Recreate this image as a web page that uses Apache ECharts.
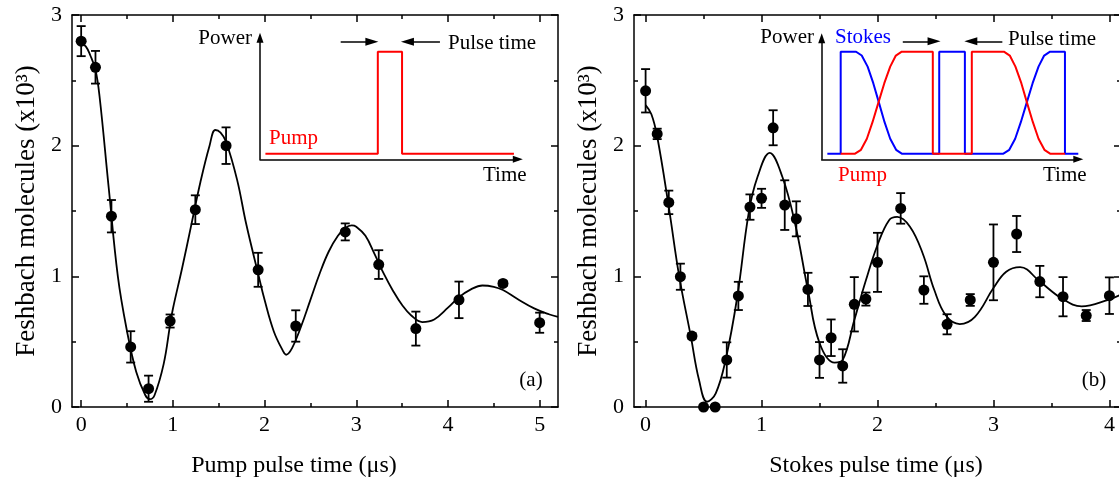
<!DOCTYPE html>
<html>
<head>
<meta charset="utf-8">
<script src="https://cdn.jsdelivr.net/npm/echarts@6/dist/echarts.min.js"></script>
<style>
html,body{margin:0;padding:0;background:#fff;}
#c{width:1119px;height:486px;}
</style>
</head>
<body>
<div id="c"></div>
<script>
// ---------- Panel (a): pump pulse ----------
const pumpT   = [0, 0.156, 0.33, 0.54, 0.735, 0.97, 1.245, 1.58, 1.93, 2.34, 2.88, 3.245, 3.65, 4.12, 4.60, 5.0];
const pumpN   = [2.80, 2.60, 1.46, 0.46, 0.14, 0.658, 1.51, 2.00, 1.05, 0.62, 1.34, 1.09, 0.60, 0.82, 0.946, 0.645];
const pumpErr = [0.115, 0.125, 0.124, 0.12, 0.10, 0.05, 0.11, 0.14, 0.13, 0.12, 0.065, 0.11, 0.13, 0.14, 0.02, 0.077];

const pumpFitT = [0, 0.05, 0.1, 0.156, 0.2, 0.3, 0.4, 0.5, 0.6, 0.7, 0.75, 0.8, 0.9, 0.97, 1.0, 1.1, 1.2, 1.3, 1.4, 1.463, 1.52, 1.58, 1.7, 1.8, 1.93, 2.0, 2.1, 2.2, 2.235, 2.3, 2.4, 2.5, 2.6, 2.7, 2.8, 2.88, 2.95, 3.0, 3.1, 3.2, 3.3, 3.4, 3.5, 3.6, 3.72, 3.85, 4.0, 4.12, 4.25, 4.375, 4.5, 4.6, 4.75, 4.94, 5.1, 5.2];
const pumpFitN = [2.78, 2.76, 2.69, 2.58, 2.38, 1.68, 1.00, 0.58, 0.27, 0.09, 0.06, 0.09, 0.33, 0.63, 0.75, 1.06, 1.39, 1.72, 2.00, 2.12, 2.10, 2.03, 1.74, 1.40, 1.02, 0.82, 0.58, 0.43, 0.40, 0.45, 0.62, 0.82, 1.02, 1.19, 1.31, 1.37, 1.39, 1.38, 1.31, 1.17, 1.02, 0.89, 0.78, 0.70, 0.65, 0.67, 0.76, 0.84, 0.90, 0.93, 0.92, 0.895, 0.83, 0.755, 0.71, 0.69];

// ---------- Panel (b): Stokes pulse ----------
const stokesT   = [0, 0.1, 0.2, 0.3, 0.4, 0.5, 0.6, 0.7, 0.8, 0.9, 1.0, 1.1, 1.2, 1.3, 1.4, 1.5, 1.6, 1.7, 1.8, 1.9, 2.0, 2.2, 2.4, 2.6, 2.8, 3.0, 3.2, 3.4, 3.6, 3.8, 4.0];
const stokesN   = [2.42, 2.09, 1.566, 0.997, 0.543, 0, 0, 0.36, 0.85, 1.53, 1.597, 2.137, 1.545, 1.44, 0.90, 0.36, 0.53, 0.314, 0.786, 0.826, 1.107, 1.52, 0.895, 0.633, 0.819, 1.107, 1.324, 0.96, 0.844, 0.70, 0.852];
const stokesErr = [0.166, 0.04, 0.09, 0.10, 0.02, 0, 0, 0.135, 0.108, 0.097, 0.073, 0.134, 0.19, 0.134, 0.127, 0.137, 0.14, 0.128, 0.208, 0.05, 0.226, 0.117, 0.105, 0.077, 0.045, 0.29, 0.138, 0.12, 0.15, 0.042, 0.14];

const stokesFitT = [0, 0.05, 0.1, 0.2, 0.29, 0.39, 0.46, 0.53, 0.605, 0.69, 0.79, 0.89, 0.965, 1.07, 1.18, 1.29, 1.40, 1.50, 1.63, 1.70, 1.80, 1.90, 2.0, 2.10, 2.17, 2.28, 2.39, 2.49, 2.59, 2.71, 2.84, 3.0, 3.11, 3.23, 3.40, 3.59, 3.76, 3.99, 4.1];
const stokesFitN = [2.31, 2.24, 2.07, 1.53, 1.00, 0.54, 0.21, 0.04, 0.105, 0.36, 0.84, 1.49, 1.76, 1.945, 1.76, 1.40, 0.895, 0.49, 0.34, 0.36, 0.665, 0.97, 1.24, 1.43, 1.455, 1.38, 1.175, 0.895, 0.70, 0.635, 0.69, 0.91, 1.035, 1.07, 0.96, 0.83, 0.77, 0.82, 0.86];

// ---------- Tick values ----------
const pumpXMajor   = [0, 1, 2, 3, 4, 5];
const pumpXMinor   = [0.5, 1.5, 2.5, 3.5, 4.5];
const stokesXMajor = [0, 1, 2, 3, 4];
const stokesXMinor = [0.5, 1.5, 2.5, 3.5];
const yMajor = [0, 1, 2, 3];
const yMinor = [0.5, 1.5, 2.5];

// ---------- Inset schematics (arbitrary time / power units) ----------
const insetAPumpT = [0.21, 4.57, 4.57, 5.51, 5.51, 9.85];
const insetAPumpP = [0.055, 0.055, 1.062, 1.062, 0.055, 0.055];
const insetAArrowY = 1.16;
const insetAArrows = [[3.13, 4.34], [6.98, 5.72]];

const insetBStokesT = [0.22, 0.74, 0.74, 1.34, 1.56, 1.79, 2.01, 2.23, 2.45, 2.67, 2.90, 3.12, 4.58, 4.58, 5.58, 5.58, 7.08, 7.31, 7.54, 7.76, 7.99, 8.22, 8.45, 8.67, 8.90, 9.48, 9.48, 10.0];
const insetBStokesP = [0.056, 0.056, 1.067, 1.067, 1.029, 0.919, 0.755, 0.562, 0.368, 0.204, 0.094, 0.056, 0.056, 1.067, 1.067, 0.056, 0.056, 0.094, 0.204, 0.368, 0.562, 0.755, 0.919, 1.029, 1.067, 1.067, 0.056, 0.056];
const insetBPumpT = [0.74, 1.30, 1.53, 1.76, 1.98, 2.21, 2.44, 2.67, 2.89, 3.12, 4.33, 4.33, 5.85, 5.85, 7.10, 7.33, 7.55, 7.78, 8.00, 8.23, 8.45, 8.68, 8.90, 9.48];
const insetBPumpP = [0.056, 0.056, 0.094, 0.204, 0.368, 0.562, 0.755, 0.919, 1.029, 1.067, 1.067, 0.056, 0.056, 1.067, 1.067, 1.029, 0.919, 0.755, 0.562, 0.368, 0.204, 0.094, 0.056, 0.056];
const insetBArrowY = 1.17;
const insetBArrows = [[3.16, 4.38], [7.04, 5.81]];

// ---------- Build chart ----------
const FONT = 'Liberation Serif';
const AX = {color: '#000', width: 1.5};
const zip2 = (a, b) => a.map((v, i) => [v, b[i]]);
const zip3 = (a, b, c) => a.map((v, i) => [v, b[i], c[i]]);

function mkAxis(kind, grid, pos, min, max, ticks, len, line, labels) {
  return {
    gridIndex: grid, type: 'value', min: min, max: max, position: pos,
    axisLine: {show: line, onZero: false, lineStyle: AX},
    axisTick: {show: true, inside: true, length: len, customValues: ticks, lineStyle: AX},
    axisLabel: labels ? {show: true, customValues: ticks, color: '#000', fontFamily: FONT, fontSize: 22, margin: kind === 'x' ? 7 : 10} : {show: false},
    splitLine: {show: false}, minorTick: {show: false}, minorSplitLine: {show: false}
  };
}
function panelX(grid, min, max, major, minor) {
  return [
    mkAxis('x', grid, 'bottom', min, max, major, 7, true, true),
    mkAxis('x', grid, 'bottom', min, max, minor, 4, false, false),
    mkAxis('x', grid, 'top', min, max, major, 7, true, false),
    mkAxis('x', grid, 'top', min, max, minor, 4, false, false)
  ];
}
function panelY(grid) {
  return [
    mkAxis('y', grid, 'left', 0, 3, yMajor, 7, true, true),
    mkAxis('y', grid, 'left', 0, 3, yMinor, 4, false, false),
    mkAxis('y', grid, 'right', 0, 3, yMajor, 7, true, false),
    mkAxis('y', grid, 'right', 0, 3, yMinor, 4, false, false)
  ];
}
function insetAxis(grid, max) {
  return {
    gridIndex: grid, type: 'value', min: 0, max: max,
    axisLine: {show: true, onZero: false, symbol: ['none', 'triangle'], symbolSize: [7, 10], lineStyle: AX},
    axisTick: {show: false}, axisLabel: {show: false}, splitLine: {show: false}
  };
}

function errItem(params, api) {
  const x = api.value(0), y = api.value(1), e = api.value(2);
  if (!(e > 0)) return {type: 'group', children: []};
  const p1 = api.coord([x, y + e]), p2 = api.coord([x, y - e]);
  const w = 4.5;
  const st = {stroke: '#000', lineWidth: 1.8};
  return {type: 'group', children: [
    {type: 'line', shape: {x1: p1[0], y1: p1[1], x2: p2[0], y2: p2[1]}, style: st},
    {type: 'line', shape: {x1: p1[0] - w, y1: p1[1], x2: p1[0] + w, y2: p1[1]}, style: st},
    {type: 'line', shape: {x1: p2[0] - w, y1: p2[1], x2: p2[0] + w, y2: p2[1]}, style: st}
  ]};
}

function arrowData(list, y) {
  return list.map(p => [{coord: [p[0], y]}, {coord: [p[1], y]}]);
}
function arrowMark(list, y) {
  return {
    silent: true, animation: false,
    symbol: ['none', 'triangle'], symbolSize: [8, 13],
    label: {show: false},
    lineStyle: {color: '#000', width: 1.5, type: 'solid'},
    itemStyle: {color: '#000'},
    emphasis: {disabled: true},
    data: arrowData(list, y)
  };
}

function txt(x, y, text, opt) {
  const style = Object.assign({
    text: text, fontFamily: FONT, fontSize: 21, fill: '#000',
    align: 'left', textAlign: 'left', verticalAlign: 'middle', textVerticalAlign: 'middle'
  }, opt || {});
  if (style.align) style.textAlign = style.align;
  return {type: 'text', x: x, y: y, z: 100, style: style};
}

const xAxes = [].concat(
  panelX(0, -0.1, 5.2, pumpXMajor, pumpXMinor),
  panelX(1, -0.1, 4.1, stokesXMajor, stokesXMinor),
  [insetAxis(2, 10), insetAxis(3, 10)]
);
const yAxes = [].concat(panelY(0), panelY(1), [insetAxis(2, 1.2), insetAxis(3, 1.2)]);

const option = {
  animation: false,
  backgroundColor: '#fff',
  grid: [
    {left: 72, top: 15, width: 486, height: 392, containLabel: false, outerBoundsMode: 'none'},
    {left: 634, top: 15, width: 487, height: 392, containLabel: false, outerBoundsMode: 'none'},
    {left: 260, top: 37.7, width: 257.8, height: 121.6, containLabel: false, outerBoundsMode: 'none'},
    {left: 821.7, top: 38.3, width: 256.6, height: 121, containLabel: false, outerBoundsMode: 'none'}
  ],
  xAxis: xAxes,
  yAxis: yAxes,
  series: [
    // panel (a)
    {type: 'line', xAxisIndex: 0, yAxisIndex: 0, data: zip2(pumpFitT, pumpFitN), smooth: 0.4, showSymbol: false, silent: true,
     lineStyle: {color: '#000', width: 1.8}, z: 3},
    {type: 'custom', xAxisIndex: 0, yAxisIndex: 0, data: zip3(pumpT, pumpN, pumpErr), renderItem: errItem, clip: false,
     encode: {x: 0, y: 1}, silent: true, z: 4},
    {type: 'scatter', xAxisIndex: 0, yAxisIndex: 0, data: zip2(pumpT, pumpN), symbol: 'circle', symbolSize: 11, clip: false,
     itemStyle: {color: '#000', opacity: 1}, silent: true, z: 5},
    // panel (b)
    {type: 'line', xAxisIndex: 4, yAxisIndex: 4, data: zip2(stokesFitT, stokesFitN), smooth: 0.4, showSymbol: false, silent: true,
     lineStyle: {color: '#000', width: 1.8}, z: 3},
    {type: 'custom', xAxisIndex: 4, yAxisIndex: 4, data: zip3(stokesT, stokesN, stokesErr), renderItem: errItem, clip: false,
     encode: {x: 0, y: 1}, silent: true, z: 4},
    {type: 'scatter', xAxisIndex: 4, yAxisIndex: 4, data: zip2(stokesT, stokesN), symbol: 'circle', symbolSize: 11, clip: false,
     itemStyle: {color: '#000', opacity: 1}, silent: true, z: 5},
    // inset (a)
    {type: 'line', xAxisIndex: 8, yAxisIndex: 8, data: zip2(insetAPumpT, insetAPumpP), showSymbol: false, silent: true,
     lineStyle: {color: '#ff0000', width: 2}, itemStyle: {color: '#ff0000'}, z: 6,
     markLine: arrowMark(insetAArrows, insetAArrowY)},
    // inset (b)
    {type: 'line', xAxisIndex: 9, yAxisIndex: 9, data: zip2(insetBStokesT, insetBStokesP), showSymbol: false, silent: true,
     lineStyle: {color: '#0000ff', width: 2}, itemStyle: {color: '#0000ff'}, z: 6,
     markLine: arrowMark(insetBArrows, insetBArrowY)},
    {type: 'line', xAxisIndex: 9, yAxisIndex: 9, data: zip2(insetBPumpT, insetBPumpP), showSymbol: false, silent: true,
     lineStyle: {color: '#ff0000', width: 2}, itemStyle: {color: '#ff0000'}, z: 7}
  ],
  graphic: {elements: [
    // axis titles
    txt(294, 466, 'Pump pulse time (μs)', {fontSize: 24, align: 'center'}),
    txt(876, 466, 'Stokes pulse time (μs)', {fontSize: 24, align: 'center'}),
    Object.assign(txt(27, 211, 'Feshbach molecules (x10³)', {fontSize: 27, align: 'center'}), {rotation: Math.PI / 2}),
    Object.assign(txt(589, 211, 'Feshbach molecules (x10³)', {fontSize: 27, align: 'center'}), {rotation: Math.PI / 2}),
    // panel tags
    txt(531, 380, '(a)', {align: 'center'}),
    txt(1094, 380, '(b)', {align: 'center'}),
    // inset (a) labels
    txt(252, 38, 'Power', {align: 'right'}),
    txt(269, 138, 'Pump', {fill: '#ff0000'}),
    txt(483, 175, 'Time'),
    txt(448, 43, 'Pulse time'),
    // inset (b) labels
    txt(814, 37, 'Power', {align: 'right'}),
    txt(835, 37, 'Stokes', {fill: '#0000ff'}),
    txt(1008, 39, 'Pulse time'),
    txt(838, 175, 'Pump', {fill: '#ff0000'}),
    txt(1043, 175, 'Time')
  ]}
};

const chart = echarts.init(document.getElementById('c'), null, {renderer: 'canvas'});
chart.setOption(option);
</script>
</body>
</html>
